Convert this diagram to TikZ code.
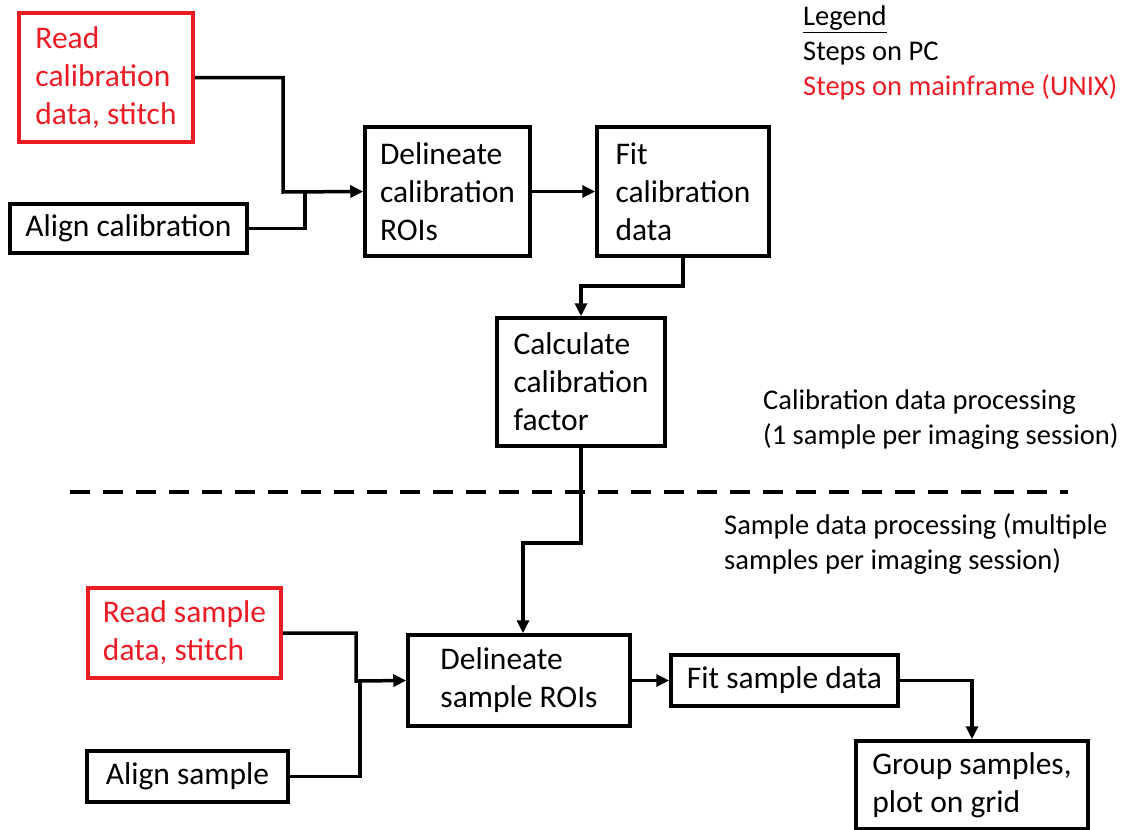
\documentclass[tikz,border=0pt]{standalone}
\usepackage{fontspec}
\setmainfont{Carlito}
\usetikzlibrary{arrows.meta}
\definecolor{mainred}{RGB}{237,28,36}
\begin{document}
\begin{tikzpicture}[x=1pt, y=-1pt, line join=miter,
	box/.style={draw, line width=3.5pt, inner xsep=8pt, inner ysep=2pt, align=left, font=\fontsize{31.5}{38}\selectfont},
	redbox/.style={box, draw=mainred, text=mainred},
	conn/.style={line width=3.5pt},
	arr/.style={conn, -{Triangle[length=13pt,width=12pt]}},
	note/.style={anchor=west, align=left, inner sep=0pt, font=\fontsize{28.5}{35}\selectfont}]
	\useasboundingbox (0,0) rectangle (1130,830);
	% calibration data
	\node[redbox, minimum width=174pt, minimum height=129pt] (readcal) at (106,77.5) {Read\\calibration\\data, stitch};
	\node[box, minimum width=237pt, minimum height=49pt] (aligncal) at (128.5,228.5) {Align calibration};
	\node[box, minimum width=165pt, minimum height=129pt] (delcal) at (447.5,191.5) {Delineate\\calibration\\ROIs};
	\node[box, minimum width=172pt, minimum height=129pt] (fitcal) at (683,191.5) {Fit\\calibration\\data};
	\node[box, minimum width=168pt, minimum height=128pt] (calcfac) at (581,382) {Calculate\\calibration\\factor};
	% sample data
	\node[redbox, minimum width=193pt, minimum height=90pt] (readsmp) at (184.5,633) {Read sample\\data, stitch};
	\node[box, minimum width=201pt, minimum height=51pt] (alignsmp) at (187.5,776.5) {Align sample};
	\node[box, minimum width=222pt, minimum height=91pt] (delsmp) at (519,680.5) {Delineate\\sample ROIs};
	\node[box, minimum width=227pt, minimum height=51pt] (fitsmp) at (784.5,680.5) {Fit sample data};
	\node[box, minimum width=232pt, minimum height=88pt] (group) at (972,785) {Group samples,\\plot on grid};
	% junctions
	\coordinate (j1) at (283,192);
	\coordinate (j2) at (305,192);
	\coordinate (j3) at (683,286);
	\coordinate (j4) at (523,543);
	\coordinate (j5) at (356,681);
	\coordinate (j6) at (360,681);
	\draw[arr] (readcal.east) -| (j1) -- (delcal.west);
	\draw[conn] (aligncal.east) -| (j2);
	\draw[arr] (delcal.east) -- (fitcal.west);
	\draw[arr] (fitcal.south) -- (j3) -| (calcfac.north);
	\draw[arr] (calcfac.south) |- (j4) -- (j4 |- delsmp.north);
	\draw[arr] (readsmp.east) -| (j5) -- (delsmp.west);
	\draw[conn] (alignsmp.east) -| (j6);
	\draw[arr] (delsmp.east) -- (fitsmp.west);
	\draw[arr] (fitsmp.east) -| (group.north);
	% divider
	\coordinate (d1) at (70,492);
	\coordinate (d2) at (1068,492);
	\draw[line width=3.5pt, dash pattern=on 20pt off 13pt] (d1) -- (d2);
	% legend and labels
	\node[note] (legend) at (803,53) {\underline{Legend}\\Steps on PC\\\textcolor{mainred}{Steps on mainframe (UNIX)}};
	\node[note] (calnote) at (763,420) {Calibration data processing\\(1 sample per imaging session)};
	\node[note] (smpnote) at (724,544) {Sample data processing (multiple\\samples per imaging session)};
\end{tikzpicture}
\end{document}
